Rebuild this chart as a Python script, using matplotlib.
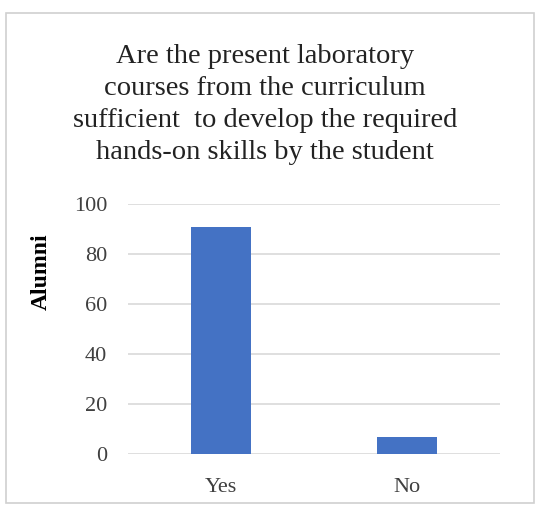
import matplotlib.pyplot as plt
from matplotlib.patches import Rectangle

categories = ['Yes', 'No']
alumni = [91, 7]
yticks = [0, 20, 40, 60, 80, 100]
title = ('Are the present laboratory\ncourses from the curriculum\n'
         'sufficient  to develop the required\nhands-on skills by the student')

plt.rcParams['font.family'] = ['Liberation Serif', 'DejaVu Serif']

fig = plt.figure(figsize=(5.36, 5.12), dpi=100)
# plot area in pixels: x 128..500, y 204..454 (of 512)
ax = fig.add_axes([128 / 536, 1 - 454 / 512, 372 / 536, 250 / 512])

ax.bar(categories, alumni, width=0.32, color='#4472C4', zorder=3)
ax.set_xlim(-0.5, 1.5)
ax.set_ylim(0, 100)
ax.set_yticks(yticks)
ax.grid(axis='y', color='#d9d9d9', linewidth=1.2, zorder=0)
for s in ax.spines.values():
    s.set_visible(False)
ax.tick_params(axis='both', length=0, labelsize=16, colors='#404040')
ax.tick_params(axis='x', pad=17)
ax.tick_params(axis='y', pad=15)
ax.set_ylabel('Alumni', fontsize=17, fontweight='bold')
ax.yaxis.set_label_coords(-0.205, 0.73)

fig.text(265 / 536, 1 - 104.5 / 512, title, ha='center', va='center',
         fontsize=20.5, linespacing=1.37, color='#222222')

# outer chart border
fig.patches.append(Rectangle((6 / 536, 1 - 503 / 512), 528 / 536, 490 / 512,
                             transform=fig.transFigure, fill=False,
                             edgecolor='#d0d0d0', linewidth=1.2))

fig.savefig('out.png', dpi=100)
